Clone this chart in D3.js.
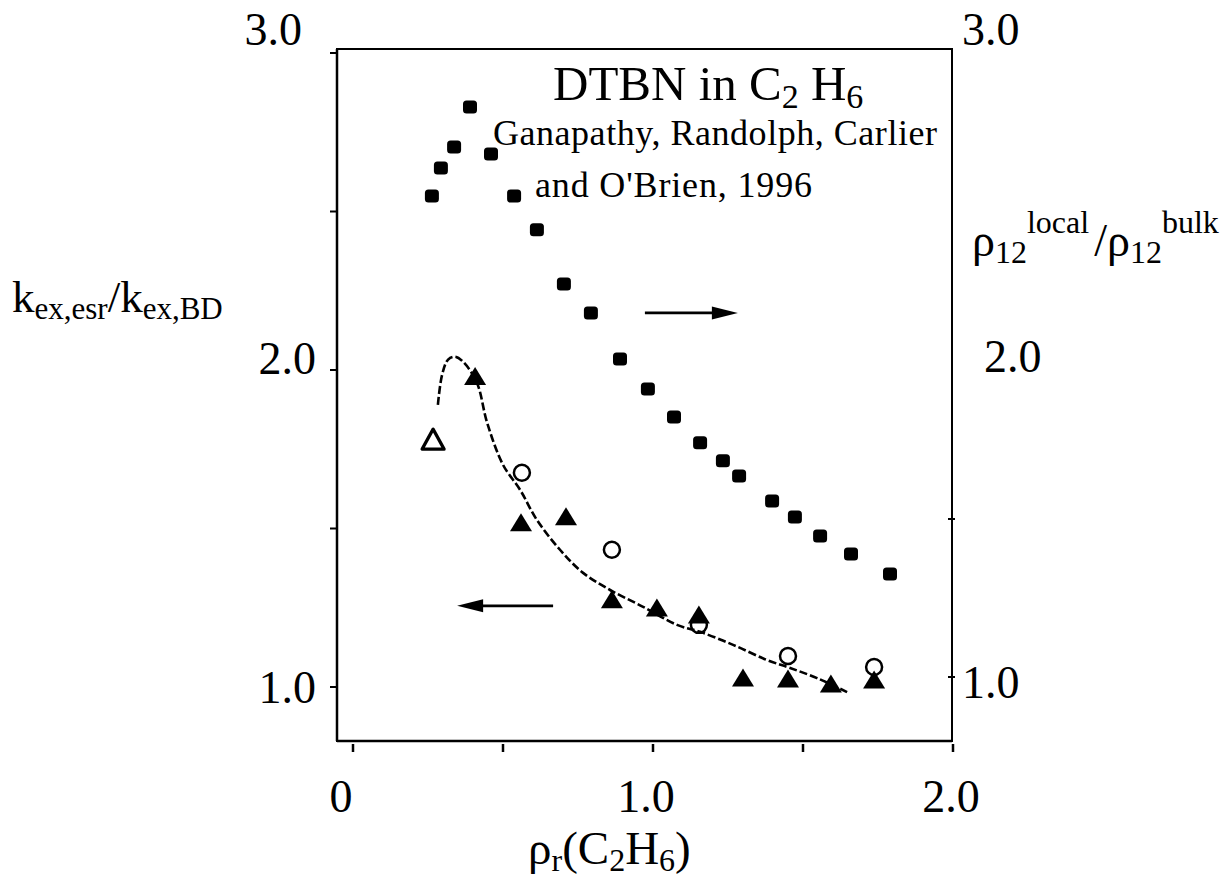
<!DOCTYPE html>
<html>
<head>
<meta charset="utf-8">
<script src="https://cdn.jsdelivr.net/npm/d3@7/dist/d3.min.js"></script>
<style>
  body { margin: 0; background: #fff; }
  text { font-family: "Liberation Serif", "Times New Roman", serif; fill: #000; }
</style>
</head>
<body>
<div id="chart"></div>
<script>
// reduced density of ethane (x axis)
var rhoLocal = [0.263, 0.293, 0.337, 0.390, 0.460, 0.537, 0.613, 0.703, 0.793, 0.890,
                0.983, 1.070, 1.157, 1.233, 1.287, 1.397, 1.473, 1.557, 1.660, 1.790];
// rho12 local / rho12 bulk (right axis)
var localRatio = [2.522, 2.611, 2.677, 2.804, 2.655, 2.522, 2.415, 2.244, 2.152, 2.006,
                  1.911, 1.823, 1.741, 1.684, 1.636, 1.557, 1.506, 1.446, 1.389, 1.326];

// k_ex,esr / k_ex,BD (left axis)
var rhoFilledTri = [0.407, 0.560, 0.710, 0.863, 1.013, 1.153, 1.300, 1.450, 1.593, 1.737];
var kFilledTri   = [1.979, 1.518, 1.537, 1.275, 1.249, 1.227, 1.028, 1.025, 1.009, 1.022];

var rhoOpenCirc = [0.563, 0.863, 1.153, 1.450, 1.737];
var kOpenCirc   = [1.676, 1.433, 1.196, 1.098, 1.063];

var rhoOpenTri = [0.267];
var kOpenTri   = [1.780];

// hand-drawn fit through the k ratio
var rhoFit = [0.283, 0.297, 0.317, 0.340, 0.367, 0.413, 0.447, 0.500, 0.557, 0.613, 0.690,
              0.767, 0.857, 0.967, 1.080, 1.157, 1.267, 1.380, 1.457, 1.547, 1.647];
var kFit   = [1.890, 1.985, 2.033, 2.042, 2.026, 1.960, 1.834, 1.701, 1.622, 1.527, 1.433,
              1.360, 1.306, 1.253, 1.196, 1.174, 1.133, 1.085, 1.060, 1.028, 0.984];

// arrows telling which axis a series belongs to: [y, from x, to x]
var arrowLeft  = [1.256, 0.667, 0.347];
var arrowRight = [2.152, 0.973, 1.283];

var xTicks = [0, 0.5, 1, 1.5, 2];
var xLabels = [0, 1, 2];
var xLabelText = ["0", "1.0", "2.0"];
var leftTicks = [1, 1.5, 2, 2.5, 3];
var rightTicks = [1, 1.5];
var yLabels = [1, 2, 3];
var yLabelText = ["1.0", "2.0", "3.0"];

var W = 1227, H = 882;
var frame = { left: 337, right: 952, top: 49, bottom: 741 };

var x = d3.scaleLinear().domain([0, 2]).range([353, 953]);
var yL = d3.scaleLinear().domain([1, 3]).range([687, 53]);
var yR = d3.scaleLinear().domain([1, 3]).range([677, 45]);
// tick label placement in the original is a little off the ticks
var xLab = d3.scaleLinear().domain([0, 2]).range([341, 951]);
var yLabL = d3.scaleLinear().domain([1, 3]).range([703, 45]);
var yLabR = d3.scaleLinear().domain([1, 3]).range([698, 45]);

var svg = d3.select("#chart").append("svg")
  .attr("width", W)
  .attr("height", H);

// frame
svg.append("rect")
  .attr("x", frame.left).attr("y", frame.top)
  .attr("width", frame.right - frame.left)
  .attr("height", frame.bottom - frame.top)
  .attr("fill", "none").attr("stroke", "#000").attr("stroke-width", 2);
svg.append("line")
  .attr("x1", frame.left).attr("x2", frame.left)
  .attr("y1", frame.top).attr("y2", frame.bottom)
  .attr("stroke", "#000").attr("stroke-width", 2.5);
svg.append("line")
  .attr("x1", frame.left).attr("x2", frame.right)
  .attr("y1", frame.bottom).attr("y2", frame.bottom)
  .attr("stroke", "#000").attr("stroke-width", 2.5);

// ticks
svg.selectAll(".xt").data(xTicks).enter().append("line")
  .attr("x1", function(d) { return x(d); }).attr("x2", function(d) { return x(d); })
  .attr("y1", frame.bottom + 3).attr("y2", frame.bottom + 11)
  .attr("stroke", "#000").attr("stroke-width", 2.5);
svg.selectAll(".ylt").data(leftTicks).enter().append("line")
  .attr("x1", frame.left - 7).attr("x2", frame.left)
  .attr("y1", function(d) { return yL(d); }).attr("y2", function(d) { return yL(d); })
  .attr("stroke", "#000").attr("stroke-width", 2);
svg.selectAll(".yrt").data(rightTicks).enter().append("line")
  .attr("x1", frame.right - 4).attr("x2", frame.right + 3)
  .attr("y1", function(d) { return yR(d); }).attr("y2", function(d) { return yR(d); })
  .attr("stroke", "#000").attr("stroke-width", 2);

// tick labels
svg.selectAll(".xl").data(xLabels).enter().append("text")
  .attr("x", function(d) { return xLab(d); })
  .attr("y", 812)
  .attr("text-anchor", "middle")
  .attr("font-size", 46)
  .text(function(d, i) { return xLabelText[i]; });
svg.selectAll(".yll").data(yLabels).enter().append("text")
  .attr("x", function(d) { return d == 3 ? 302 : 316; })
  .attr("y", function(d) { return yLabL(d); })
  .attr("text-anchor", "end")
  .attr("font-size", 46)
  .text(function(d, i) { return yLabelText[i]; });
svg.selectAll(".ylr").data(yLabels).enter().append("text")
  .attr("x", function(d) { return d == 2 ? 984 : 962; })
  .attr("y", function(d) { return yLabR(d); })
  .attr("text-anchor", "start")
  .attr("font-size", 46)
  .text(function(d, i) { return yLabelText[i]; });

// fitted curve
var fit = rhoFit.map(function(v, i) { return [v, kFit[i]]; });
var line = d3.line()
  .x(function(d) { return x(d[0]); })
  .y(function(d) { return yL(d[1]); })
  .curve(d3.curveCatmullRom);
svg.append("path")
  .attr("d", line(fit))
  .attr("fill", "none")
  .attr("stroke", "#000")
  .attr("stroke-width", 2.6)
  .attr("stroke-dasharray", "8,3");

// rho local / bulk, filled blobs
svg.selectAll(".up").data(rhoLocal).enter().append("rect")
  .attr("x", function(d) { return x(d) - 7; })
  .attr("y", function(d, i) { return yR(localRatio[i]) - 6.5; })
  .attr("width", 14).attr("height", 13).attr("rx", 3.5)
  .attr("fill", "#000");

// triangle helper
function tri(cx, cy, w, h) {
  return "M" + (cx - w / 2) + "," + (cy + h * 0.47) +
         "L" + (cx + w / 2) + "," + (cy + h * 0.47) +
         "L" + cx + "," + (cy - h * 0.53) + "Z";
}

// filled triangles
svg.selectAll(".ft").data(rhoFilledTri).enter().append("path")
  .attr("d", function(d, i) { return tri(x(d), yL(kFilledTri[i]), 22, 18); })
  .attr("fill", "#000");

// open circles
svg.selectAll(".oc").data(rhoOpenCirc).enter().append("circle")
  .attr("cx", function(d) { return x(d); })
  .attr("cy", function(d, i) { return yL(kOpenCirc[i]); })
  .attr("r", 8)
  .attr("fill", "none")
  .attr("stroke", "#000")
  .attr("stroke-width", 2.5);

// open triangle
svg.selectAll(".ot").data(rhoOpenTri).enter().append("path")
  .attr("d", function(d, i) { return tri(x(d), yL(kOpenTri[i]), 22, 20); })
  .attr("fill", "#fff")
  .attr("stroke", "#000")
  .attr("stroke-width", 3.2)
  .attr("stroke-linejoin", "round");

// arrows
function arrow(a, ys) {
  var yy = ys(a[0]), x0 = x(a[1]), x1 = x(a[2]);
  var dir = x1 > x0 ? 1 : -1;
  svg.append("line")
    .attr("x1", x0).attr("x2", x1 - dir * 10)
    .attr("y1", yy).attr("y2", yy)
    .attr("stroke", "#000").attr("stroke-width", 2.8);
  svg.append("path")
    .attr("d", "M" + x1 + "," + yy +
               "L" + (x1 - dir * 26) + "," + (yy - 6.5) +
               "L" + (x1 - dir * 26) + "," + (yy + 6.5) + "Z")
    .attr("fill", "#000");
}
arrow(arrowLeft, yL);
arrow(arrowRight, yR);

// title block
var t = svg.append("text").attr("x", 553).attr("y", 100).attr("font-size", 49);
t.append("tspan").text("DTBN in C");
t.append("tspan").attr("font-size", 34).attr("dy", 8).text("2");
t.append("tspan").attr("dy", -8).text(" H");
t.append("tspan").attr("font-size", 34).attr("dy", 8).text("6");

svg.append("text")
  .attr("x", 493).attr("y", 145)
  .attr("font-size", 36)
  .attr("textLength", 444).attr("lengthAdjust", "spacing")
  .text("Ganapathy, Randolph, Carlier");
svg.append("text")
  .attr("x", 535).attr("y", 197)
  .attr("font-size", 36)
  .attr("textLength", 277).attr("lengthAdjust", "spacing")
  .text("and O'Brien, 1996");

// left axis title
var kl = svg.append("text").attr("x", 12).attr("y", 312).attr("font-size", 45);
kl.append("tspan").text("k");
kl.append("tspan").attr("font-size", 31).attr("dy", 7).text("ex,esr");
kl.append("tspan").attr("dy", -7).text("/k");
kl.append("tspan").attr("font-size", 31).attr("dy", 7).text("ex,BD");

// right axis title
var rl = svg.append("text").attr("x", 972).attr("y", 256).attr("font-size", 46);
rl.append("tspan").text("ρ");
rl.append("tspan").attr("font-size", 32).attr("dy", 7).text("12");
rl.append("tspan").attr("font-size", 32).attr("dy", -30).text("local");
rl.append("tspan").attr("dy", 23).attr("dx", 5).text("/ρ");
rl.append("tspan").attr("font-size", 32).attr("dy", 7).text("12");
rl.append("tspan").attr("font-size", 32).attr("dy", -30).text("bulk");

// x axis title
var xl = svg.append("text").attr("x", 528).attr("y", 864).attr("font-size", 47);
xl.append("tspan").text("ρ");
xl.append("tspan").attr("font-size", 32).attr("dy", 7).text("r");
xl.append("tspan").attr("dy", -7).text("(C");
xl.append("tspan").attr("font-size", 32).attr("dy", 7).text("2");
xl.append("tspan").attr("dy", -7).text("H");
xl.append("tspan").attr("font-size", 32).attr("dy", 7).text("6");
xl.append("tspan").attr("dy", -7).text(")");
</script>
</body>
</html>
